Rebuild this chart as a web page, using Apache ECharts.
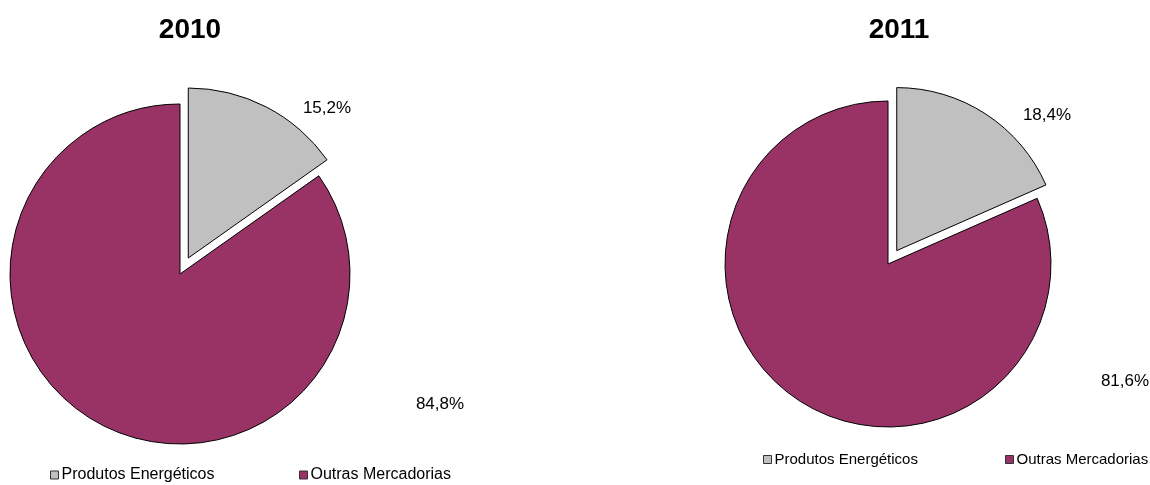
<!DOCTYPE html>
<html>
<head>
<meta charset="utf-8">
<script src="https://cdn.jsdelivr.net/npm/echarts@6/dist/echarts.min.js"></script>
<style>
  html, body { margin: 0; padding: 0; background: #fff; }
  #chart { width: 1150px; height: 485px; }
</style>
</head>
<body>
<div id="chart"></div>
<script>
// Share of trade by product group, per year
const years = ['2010', '2011'];
const categories = ['Produtos Energéticos', 'Outras Mercadorias'];
const values2010 = [15.2, 84.8];
const values2011 = [18.4, 81.6];

const colors = ['#C0C0C0', '#993366'];
const font = '"Liberation Sans", Arial, sans-serif';

// Pie geometry and where each percentage label sits
const pies = [
  { center: [180, 274], radius: 170, offset: 18, labels: [[327, 108], [440, 404]] },
  { center: [888, 264], radius: 163, offset: 16, labels: [[1047, 115], [1125, 381]] }
];

function fmt(v) {
  return v.toFixed(1).replace('.', ',') + '%';
}

// Visible pie: the energy slice is pulled out of the pie
function pieSeries(values, cfg) {
  return {
    type: 'pie',
    center: cfg.center,
    radius: cfg.radius,
    startAngle: 90,
    clockwise: true,
    selectedMode: true,
    selectedOffset: cfg.offset,
    animation: false,
    emphasis: { disabled: true },
    label: { show: false },
    labelLine: { show: false },
    data: categories.map((name, i) => ({
      name: name,
      value: values[i],
      selected: i === 0,
      itemStyle: { color: colors[i], borderColor: '#000', borderWidth: 1 },
      select: { itemStyle: { color: colors[i], borderColor: '#000', borderWidth: 1 } }
    }))
  };
}

// Same values, no fill: carries the percentage labels
function labelSeries(values, cfg) {
  return {
    type: 'pie',
    center: cfg.center,
    radius: cfg.radius,
    startAngle: 90,
    clockwise: true,
    silent: true,
    selectedMode: false,
    avoidLabelOverlap: false,
    animation: false,
    emphasis: { disabled: true },
    itemStyle: { color: 'rgba(0,0,0,0)', borderWidth: 0 },
    label: {
      show: true,
      position: 'outside',
      fontFamily: font,
      fontSize: 17,
      color: '#000',
      formatter: p => fmt(p.value)
    },
    labelLine: { show: false },
    labelLayout: p => ({
      x: cfg.labels[p.dataIndex][0],
      y: cfg.labels[p.dataIndex][1],
      align: 'center',
      verticalAlign: 'middle'
    }),
    data: categories.map((name, i) => ({ name: name, value: values[i] }))
  };
}

function legendItem(name, left, top, size) {
  return {
    data: [name],
    left: left,
    top: top,
    padding: 0,
    itemWidth: 8,
    itemHeight: 8,
    icon: 'rect',
    selectedMode: false,
    itemStyle: { borderColor: '#333', borderWidth: 1 },
    textStyle: { fontFamily: font, fontSize: size, color: '#000', padding: [0, 0, 0, -2] }
  };
}

const chart = echarts.init(document.getElementById('chart'), null, { renderer: 'canvas' });
chart.setOption({
  backgroundColor: '#fff',
  animation: false,
  title: [
    { text: years[0], left: 185, top: 11, textAlign: 'center',
      textStyle: { fontFamily: font, fontSize: 28, fontWeight: 'bold', color: '#000' } },
    { text: years[1], left: 894, top: 11, textAlign: 'center',
      textStyle: { fontFamily: font, fontSize: 28, fontWeight: 'bold', color: '#000' } }
  ],
  legend: [
    legendItem(categories[0], 50, 467, 16),
    legendItem(categories[1], 299, 467, 16),
    legendItem(categories[0], 763, 452, 15),
    legendItem(categories[1], 1005, 452, 15)
  ],
  series: [
    pieSeries(values2010, pies[0]),
    pieSeries(values2011, pies[1]),
    labelSeries(values2010, pies[0]),
    labelSeries(values2011, pies[1])
  ]
});
</script>
</body>
</html>
